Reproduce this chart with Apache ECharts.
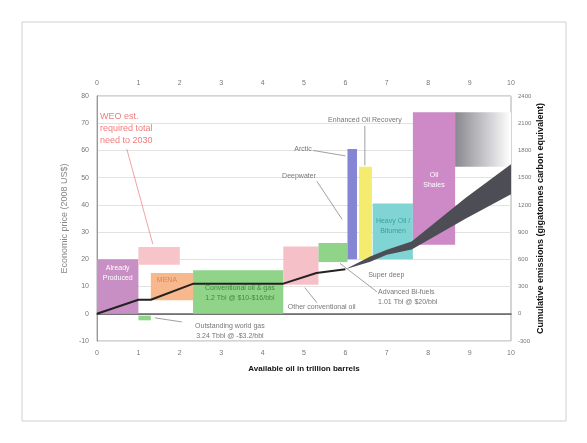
<!DOCTYPE html>
<html><head><meta charset="utf-8">
<script src="https://cdn.jsdelivr.net/npm/echarts@6/dist/echarts.min.js"></script>
<style>html,body{margin:0;padding:0;background:#fff}#c{width:587px;height:443px}</style>
</head><body><div id="c"></div>
<script>
// ---- data ----
const boxNames = ['Already Produced','WEO need','MENA','Outstanding gas','Conventional oil','Other conventional oil','Deepwater','Arctic','Enhanced Oil Recovery','Heavy Oil / Bitumen','Oil Shales','GTL / CTL'];
const boxX0   = [0,   1.0, 1.3, 1.0,  2.32, 4.5,  5.35, 6.05, 6.33, 6.66, 7.63, 8.65];
const boxX1   = [1.0, 2.0, 2.32,1.3,  4.5,  5.35, 6.05, 6.28, 6.64, 7.63, 8.65, 10];
const boxLow  = [0,   18,  5,  -2.4,  0,    10.7, 19,   20,   20,   20,   25.4, 54];
const boxHigh = [20,  24.5,15, -0.7,  16,   24.7, 26,   60.5, 54,   40.5, 74,   74];
const emisX   = [0, 1.0, 1.3, 2.33, 4.5, 5.3, 6.0];
const emisVal = [0, 155, 155, 332, 332, 450, 490];
const bandX    = [6.0, 6.6, 7.0, 7.6, 8.9, 10];
const bandLow  = [490, 572, 650, 708, 1047, 1316];
const bandHigh = [490, 630, 705, 796, 1275, 1648];

// ---- styles ----
const boxFill = ['#c78fc3','#f7c4ca','#f8b88e','#90d48a','#90d48a','#f6c0c8','#90d48a','#8585d6','#f4ec6e','#80d5d4','#cd8ac7',
  new echarts.graphic.LinearGradient(0,0,1,0,[{offset:0,color:'#88888f'},{offset:1,color:'#ffffff'}])];
const FONT = '"Liberation Sans", Arial, sans-serif';
const lbl = {fontSize:7, color:'#777', fontFamily:FONT};

const chart = echarts.init(document.getElementById('c'));
chart.setOption({
  animation:false,
  grid:{left:97,right:76,top:96,bottom:102,show:true,borderColor:'#aaa',borderWidth:1},
  xAxis:[
    {type:'value',min:0,max:10,interval:1,position:'bottom',
     axisLine:{show:true,lineStyle:{color:'#999'}},axisTick:{show:false},splitLine:{show:false},
     axisLabel:Object.assign({margin:9},lbl),
     name:'Available oil in trillion barrels',nameLocation:'middle',nameGap:24,
     nameTextStyle:{fontSize:8,fontWeight:'bold',color:'#111',fontFamily:FONT}},
    {type:'value',min:0,max:10,interval:1,position:'top',
     axisLine:{show:true,lineStyle:{color:'#666',width:1.5}},axisTick:{show:false},splitLine:{show:false},
     axisLabel:Object.assign({margin:9},lbl)}
  ],
  yAxis:[
    {type:'value',min:-10,max:80,interval:10,position:'left',
     axisLine:{show:true,lineStyle:{color:'#999'}},axisTick:{show:false},
     splitLine:{show:true,lineStyle:{color:'#e2e2e2'}},
     axisLabel:Object.assign({margin:8},lbl),
     name:'Economic price (2008 US$)',nameLocation:'middle',nameGap:28,nameRotate:90,nameMoveOverlap:false,
     nameTextStyle:{fontSize:9,color:'#888',fontFamily:FONT}},
    {type:'value',min:-300,max:2400,interval:300,position:'right',
     axisLine:{show:true,lineStyle:{color:'#999'}},axisTick:{show:false},splitLine:{show:false},
     axisLabel:{margin:7,formatter:v=>String(v),fontSize:6,color:'#777',fontFamily:FONT},
     name:'Cumulative emissions (gigatonnes carbon equivalent)',nameLocation:'middle',nameGap:25,nameRotate:90,nameMoveOverlap:false,
     nameTextStyle:{fontSize:9,fontWeight:'bold',color:'#111',fontFamily:FONT}}
  ],
  series:[
    {type:'custom',name:'boxes',xAxisIndex:0,yAxisIndex:0,silent:true,
     data:boxX0.map((x,i)=>[x,boxX1[i],boxLow[i],boxHigh[i],i]),
     renderItem:function(params,api){
       const i=api.value(4);
       const p0=api.coord([api.value(0),api.value(3)]);
       const p1=api.coord([api.value(1),api.value(2)]);
       return {type:'rect',shape:{x:p0[0],y:p0[1],width:p1[0]-p0[0],height:p1[1]-p0[1]},style:{fill:boxFill[i]}};
     }},
    {type:'custom',name:'band',xAxisIndex:0,yAxisIndex:1,silent:true,z:3,
     data:[[0]],
     renderItem:function(params,api){
       const pts=[];
       for(let i=0;i<bandX.length;i++) pts.push(api.coord([bandX[i],bandHigh[i]]));
       for(let i=bandX.length-1;i>=0;i--) pts.push(api.coord([bandX[i],bandLow[i]]));
       return {type:'polygon',shape:{points:pts},style:{fill:'#4d4d56'}};
     }},
    {type:'line',name:'emissions',xAxisIndex:0,yAxisIndex:1,z:4,symbol:'none',
     data:emisX.map((x,i)=>[x,emisVal[i]]),
     lineStyle:{color:'#222',width:2}}
  ]
});

// ---- annotations (anchors in data units) ----
const notes = [
  {t:'WEO est.\nrequired total\nneed to 2030',at:[0.07,67.9],c:'#f07d7d',fs:9,a:'left'},
  {t:'Already\nProduced',at:[0.5,14.8],c:'#ffffff',fs:7,a:'center'},
  {t:'MENA',at:[1.69,12.5],c:'#e0844a',fs:7,a:'center'},
  {t:'Conventional oil & gas\n1.2 Tbl @ $10-$16/bbl',at:[3.45,7.7],c:'#3f8f3f',fs:7,a:'center'},
  {t:'Outstanding world gas\n3.24 Tbbl @ -$3.2/bbl',at:[3.21,-6.3],c:'#777',fs:7,a:'center'},
  {t:'Other conventional oil',at:[4.61,2.6],c:'#777',fs:7,a:'left'},
  {t:'Super deep',at:[6.55,14.4],c:'#777',fs:7,a:'left'},
  {t:'Advanced Bi-fuels\n1.01 Tbl @ $20/bbl',at:[6.79,6.3],c:'#777',fs:7,a:'left'},
  {t:'Arctic',at:[5.19,60.5],c:'#777',fs:7,a:'right'},
  {t:'Deepwater',at:[4.88,50.5],c:'#777',fs:7,a:'center'},
  {t:'Enhanced Oil Recovery',at:[6.47,71.2],c:'#777',fs:7,a:'center'},
  {t:'Heavy Oil /\nBitumen',at:[7.15,32.1],c:'#3c9f9f',fs:7,a:'center'},
  {t:'Oil\nShales',at:[8.14,49.3],c:'#ffffff',fs:7,a:'center'}
];
const leaders = [
  {f:[0.72,60.5],to:[1.35,25.5],c:'#f08a8a'},
  {f:[5.22,60],to:[6.0,58],c:'#888'},
  {f:[5.31,48.7],to:[5.92,34.7],c:'#888'},
  {f:[6.47,69],to:[6.47,54.5],c:'#888'},
  {f:[1.4,-1.5],to:[2.05,-3.0],c:'#888'},
  {f:[5.02,9.6],to:[5.31,4.1],c:'#888'},
  {f:[5.87,18.5],to:[6.76,8.1],c:'#888'}
];
const px = v => chart.convertToPixel({xAxisIndex:0,yAxisIndex:0}, v);
const g = [{type:'rect',shape:{x:22,y:22,width:544,height:399},style:{fill:null,stroke:'#d0d0d0',lineWidth:1},z:-10}];
leaders.forEach(l=>{
  const a=px(l.f), b=px(l.to);
  g.push({type:'line',shape:{x1:a[0],y1:a[1],x2:b[0],y2:b[1]},style:{stroke:l.c,lineWidth:0.8},z:50});
});
notes.forEach(n=>{
  const p=px(n.at);
  g.push({type:'text',x:p[0],y:p[1],z:60,style:{text:n.t,fill:n.c,font:n.fs+'px '+FONT,align:n.a,verticalAlign:'middle',lineHeight:n.fs+3}});
});
chart.setOption({graphic:g});
</script></body></html>
